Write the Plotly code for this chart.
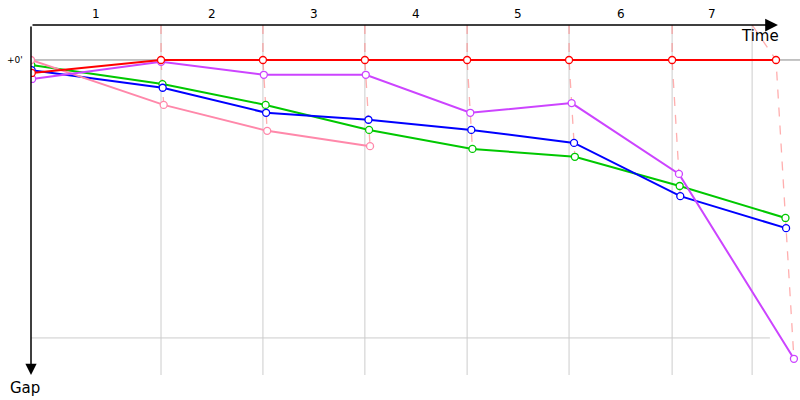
import plotly.graph_objects as go

# leader crossing times (s) at start and end of each lap
leader_times = [0, 468, 835, 1202, 1570, 1937, 2308, 2682]
# lap boundary marks on the time axis
lap_marks = [468, 835, 1202, 1570, 1937, 2308, 2596]
lap_labels = ["1", "2", "3", "4", "5", "6", "7"]

# gap to leader (s) at start and after each lap
gap_red = [2.8, 0, 0, 0, 0, 0, 0, 0]
gap_purple = [4.1, 0.4, 3.2, 3.2, 11.4, 9.3, 24.6, 64.5]
gap_green = [1.1, 5.2, 9.7, 15.1, 19.2, 20.9, 27.2, 34.1]
gap_blue = [2.2, 6.0, 11.4, 12.9, 15.1, 17.9, 29.4, 36.3]
gap_pink = [0, 9.7, 15.3, 18.6]

series = [
    ("green", gap_green, "#00c800"),
    ("blue", gap_blue, "#0000ff"),
    ("pink", gap_pink, "#ff88aa"),
    ("purple", gap_purple, "#cc44ff"),
    ("red", gap_red, "#ff0000"),
]

Y_TOP = -7.55
Y_BOT = 68.0
X_MAX = 2768.4
FONT = "DejaVu Sans"


def car_x(gaps):
    # a car crosses the line "gap" seconds after the leader
    return [leader_times[i] + g for i, g in enumerate(gaps)]


fig = go.Figure()

# lap grid
shapes = []
for t in lap_marks:
    shapes.append(dict(type="line", xref="x", yref="y", x0=t, x1=t, y0=Y_TOP, y1=Y_BOT,
                       line=dict(color="#cccccc", width=1), layer="below"))
shapes.append(dict(type="line", xref="x", yref="y", x0=0, x1=2660, y0=60, y1=60,
                   line=dict(color="#cccccc", width=1), layer="below"))
shapes.append(dict(type="line", xref="x", yref="y", x0=0, x1=X_MAX, y0=0, y1=0,
                   line=dict(color="#888888", width=1), layer="below"))

# dashed connectors through every car at each lap
cx, cy = [], []
for lap in range(1, 8):
    pts = []
    for _, gaps, _ in series:
        if lap < len(gaps):
            pts.append((gaps[lap], leader_times[lap] + gaps[lap]))
    pts.sort()
    cx += [lap_marks[lap - 1]] + [p[1] for p in pts] + [None]
    cy += [Y_TOP] + [p[0] for p in pts] + [None]
fig.add_trace(go.Scatter(x=cx, y=cy, mode="lines", hoverinfo="skip",
                         line=dict(color="rgba(255,120,120,0.6)", width=1.3, dash="dash")))

for name, gaps, color in series:
    fig.add_trace(go.Scatter(x=car_x(gaps), y=gaps, mode="lines+markers", name=name,
                             line=dict(color=color, width=2),
                             marker=dict(symbol="circle", size=7, color="white",
                                         line=dict(color=color, width=1.3))))

annotations = []
bounds = [0] + lap_marks
for i, lab in enumerate(lap_labels):
    annotations.append(dict(x=(bounds[i] + bounds[i + 1]) / 2, y=Y_TOP, text=lab, showarrow=False,
                            yanchor="bottom", yshift=2, font=dict(size=12, color="black", family=FONT)))
# axes as arrows
annotations.append(dict(x=2689, y=Y_TOP, ax=0, ay=Y_TOP, axref="x", ayref="y", text="",
                        showarrow=True, arrowhead=2, arrowsize=1.7, arrowwidth=1.5, arrowcolor="black"))
annotations.append(dict(x=0, y=Y_BOT, ax=0, ay=Y_TOP, axref="x", ayref="y", text="",
                        showarrow=True, arrowhead=2, arrowsize=1.5, arrowwidth=1.5, arrowcolor="black"))
annotations.append(dict(x=2624, y=-5.2, text="Time", showarrow=False,
                        font=dict(size=15, color="black", family=FONT)))
annotations.append(dict(xref="paper", yref="paper", x=-0.008, y=-0.006, xanchor="center", yanchor="top",
                        text="Gap", showarrow=False, font=dict(size=15, color="black", family=FONT)))
annotations.append(dict(xref="paper", yref="y", x=0, y=0, xanchor="right", xshift=-6, text="+0'",
                        showarrow=False, font=dict(size=9, color="black", family=FONT)))

fig.update_layout(
    width=800, height=400,
    margin=dict(l=31, r=0, t=25, b=25),
    plot_bgcolor="white", paper_bgcolor="white",
    showlegend=False,
    xaxis=dict(range=[0, X_MAX], visible=False),
    yaxis=dict(range=[Y_BOT, Y_TOP], visible=False),
    shapes=shapes,
    annotations=annotations,
)

fig.write_html("out.html", config={"displayModeBar": False},
               post_script="document.body.style.margin='0';")
